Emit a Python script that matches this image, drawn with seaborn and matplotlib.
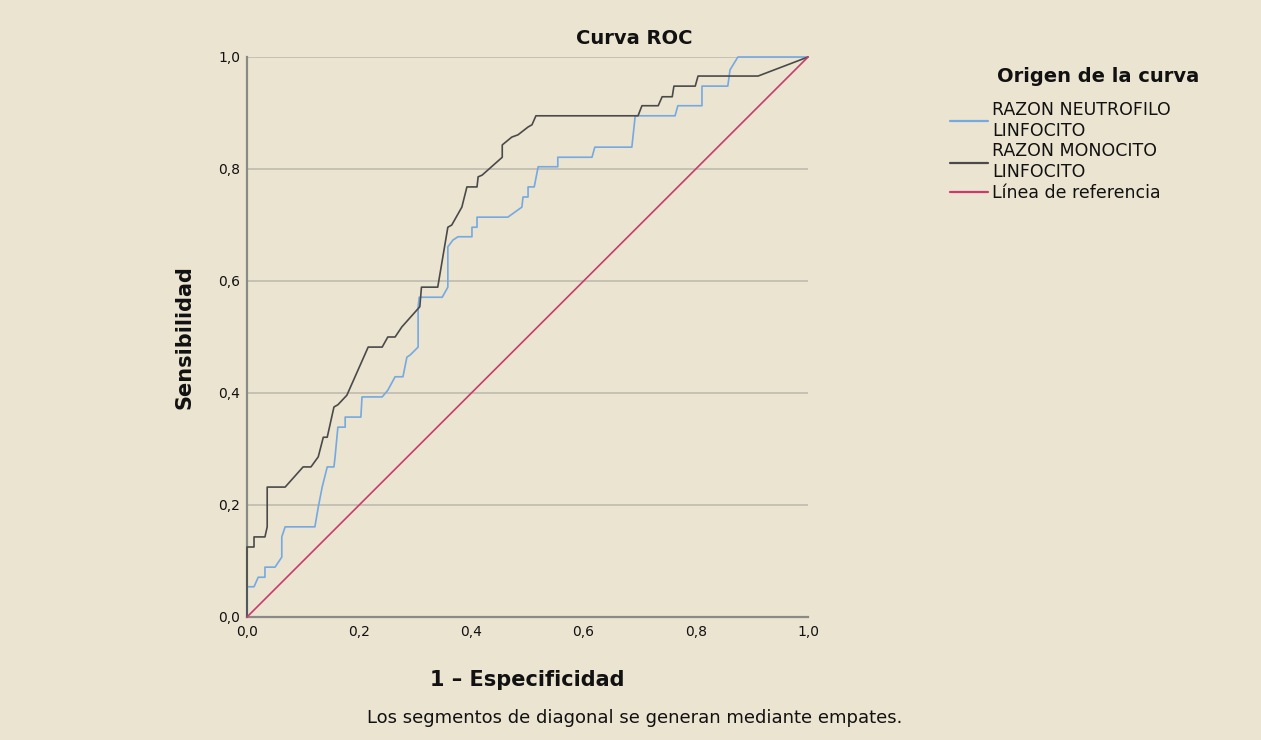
import pandas as pd
import seaborn as sns
import matplotlib.pyplot as plt
from matplotlib.lines import Line2D

# puntos de la curva ROC (1 - especificidad, sensibilidad)
nlr_fpr = [0, 0, 0.0125, 0.02, 0.032, 0.032, 0.05, 0.062, 0.062, 0.068, 0.121, 0.127, 0.134, 0.143,
           0.155, 0.157, 0.162, 0.175, 0.175, 0.203, 0.205, 0.241, 0.251, 0.264, 0.278, 0.285, 0.291,
           0.305, 0.305, 0.307, 0.348, 0.358, 0.358, 0.367, 0.376, 0.401, 0.401, 0.41, 0.41, 0.465,
           0.49, 0.492, 0.501, 0.501, 0.512, 0.519, 0.554, 0.554, 0.615, 0.62, 0.686, 0.692, 0.763,
           0.768, 0.811, 0.811, 0.857, 0.861, 0.875, 1]
nlr_tpr = [0, 0.054, 0.054, 0.071, 0.071, 0.089, 0.089, 0.107, 0.143, 0.161, 0.161, 0.196, 0.232, 0.268,
           0.268, 0.286, 0.339, 0.339, 0.357, 0.357, 0.393, 0.393, 0.405, 0.429, 0.429, 0.464, 0.468,
           0.482, 0.554, 0.571, 0.571, 0.589, 0.661, 0.673, 0.679, 0.679, 0.696, 0.696, 0.714, 0.714,
           0.732, 0.75, 0.75, 0.768, 0.768, 0.804, 0.804, 0.821, 0.821, 0.839, 0.839, 0.895, 0.895,
           0.913, 0.913, 0.948, 0.948, 0.977, 1.0, 1]

mlr_fpr = [0, 0, 0.0125, 0.0125, 0.032, 0.036, 0.036, 0.068, 0.10, 0.114, 0.127, 0.136, 0.143, 0.155,
           0.162, 0.178, 0.216, 0.241, 0.251, 0.264, 0.276, 0.308, 0.311, 0.34, 0.358, 0.365, 0.383,
           0.392, 0.41, 0.412, 0.419, 0.455, 0.455, 0.472, 0.483, 0.501, 0.508, 0.515, 0.697, 0.704,
           0.733, 0.74, 0.758, 0.761, 0.799, 0.804, 0.911, 1]
mlr_tpr = [0, 0.125, 0.125, 0.143, 0.143, 0.161, 0.232, 0.232, 0.268, 0.268, 0.286, 0.321, 0.321, 0.375,
           0.379, 0.396, 0.482, 0.482, 0.5, 0.5, 0.518, 0.554, 0.589, 0.589, 0.696, 0.70, 0.732,
           0.768, 0.768, 0.786, 0.789, 0.821, 0.843, 0.857, 0.861, 0.875, 0.879, 0.895, 0.895, 0.913,
           0.913, 0.929, 0.929, 0.948, 0.948, 0.966, 0.966, 1]

ref_fpr = [0, 1]
ref_tpr = [0, 1]

curvas = ['RAZON NEUTROFILO\nLINFOCITO', 'RAZON MONOCITO\nLINFOCITO', 'Línea de referencia']
colores = ['#74A9E2', '#4A4A4A', '#C83B6C']
ticks = [0, 0.2, 0.4, 0.6, 0.8, 1.0]
tick_labels = ['0,0', '0,2', '0,4', '0,6', '0,8', '1,0']

df = pd.concat([
    pd.DataFrame({'fpr': nlr_fpr, 'tpr': nlr_tpr, 'curva': curvas[0]}),
    pd.DataFrame({'fpr': mlr_fpr, 'tpr': mlr_tpr, 'curva': curvas[1]}),
    pd.DataFrame({'fpr': ref_fpr, 'tpr': ref_tpr, 'curva': curvas[2]}),
], ignore_index=True)

fondo = '#EBE4D1'
sns.set_style('white')
plt.rcParams['font.family'] = ['DejaVu Sans']
plt.rcParams['text.color'] = '#111111'
plt.rcParams['axes.labelcolor'] = '#111111'
plt.rcParams['xtick.color'] = '#111111'
plt.rcParams['ytick.color'] = '#111111'

fig = plt.figure(figsize=(12.61, 7.40), dpi=100, facecolor=fondo)
ax = fig.add_axes([247 / 1261, 123 / 740, 561 / 1261, 560 / 740])
ax.set_facecolor(fondo)

for yv in ticks[1:]:
    ax.axhline(yv, color='#C2BEB1', lw=1.3, zorder=0)

sns.lineplot(data=df, x='fpr', y='tpr', hue='curva', hue_order=curvas, palette=colores,
             sort=False, estimator=None, lw=1.2, ax=ax, legend=False, clip_on=False, zorder=3)

ax.set_xlim(0, 1)
ax.set_ylim(0, 1)
ax.set_xticks(ticks)
ax.set_xticklabels(tick_labels, fontsize=10)
ax.set_yticks(ticks)
ax.set_yticklabels(tick_labels, fontsize=10)
ax.tick_params(axis='x', length=0, pad=6)
ax.tick_params(axis='y', length=0, pad=5)
for s in ['top', 'right']:
    ax.spines[s].set_visible(False)
for s in ['left', 'bottom']:
    ax.spines[s].set_color('#8A8A85')
    ax.spines[s].set_linewidth(1.6)
    ax.spines[s].set_zorder(2)

ax.set_xlabel('1 – Especificidad', fontsize=15, fontweight='bold', labelpad=22)
ax.set_ylabel('Sensibilidad', fontsize=15, fontweight='bold', labelpad=17)

fig.text(0.503, 0.948, 'Curva ROC', ha='center', va='center', fontsize=14, fontweight='bold')
fig.text(0.503, 0.030, 'Los segmentos de diagonal se generan mediante empates.',
         ha='center', va='center', fontsize=13)

fig.text(1098 / 1261, 1 - 76 / 740, 'Origen de la curva', ha='center', va='center',
         fontsize=14, fontweight='bold')
handles = [Line2D([], [], color=c, lw=1.6) for c in colores]
ax.legend(handles, curvas, loc='upper left', bbox_to_anchor=(943 / 1261, 1 - 94 / 740),
          bbox_transform=fig.transFigure, frameon=False, fontsize=12.5, handlelength=2.2,
          handletextpad=0.25, labelspacing=0.15, borderaxespad=0)

fig.savefig('out.png', dpi=100, facecolor=fondo)
